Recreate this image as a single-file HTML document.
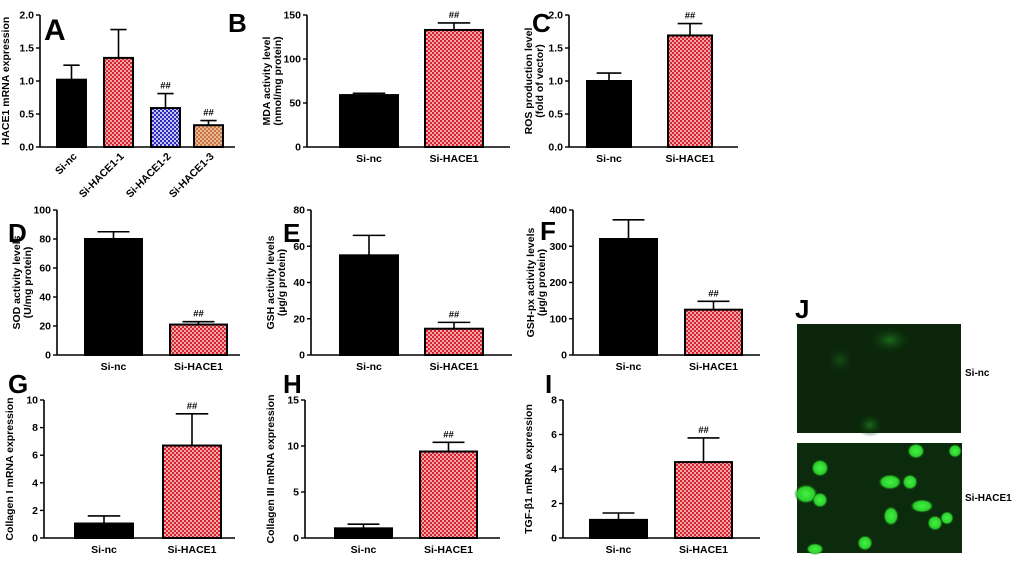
<!DOCTYPE html>
<html><head><meta charset="utf-8"><style>
body{margin:0;background:#fff;width:1020px;height:563px;overflow:hidden;font-family:"Liberation Sans",sans-serif}
svg text{font-family:"Liberation Sans",sans-serif;font-weight:bold}
</style></head><body>
<svg id="fig" width="1020" height="563" xmlns="http://www.w3.org/2000/svg">
<defs>
<pattern id="pRed" width="4" height="4" patternUnits="userSpaceOnUse"><rect width="4" height="4" fill="#f2a8aa"/><rect width="2" height="2" fill="#d8232f"/><rect x="2" y="2" width="2" height="2" fill="#d8232f"/></pattern>
<pattern id="pBlue" width="4" height="4" patternUnits="userSpaceOnUse"><rect width="4" height="4" fill="#c8c8f0"/><rect width="2" height="2" fill="#2a2ac0"/><rect x="2" y="2" width="2" height="2" fill="#2a2ac0"/></pattern>
<pattern id="pOr" width="4" height="4" patternUnits="userSpaceOnUse"><rect width="4" height="4" fill="#e8b890"/><rect width="2" height="2" fill="#c87848"/><rect x="2" y="2" width="2" height="2" fill="#c87848"/></pattern>
<radialGradient id="cell"><stop offset="0" stop-color="#44f044"/><stop offset="0.7" stop-color="#2cd02c"/><stop offset="1" stop-color="#0a3a0a" stop-opacity="0"/></radialGradient>
<radialGradient id="dim"><stop offset="0" stop-color="#1c6a1c"/><stop offset="1" stop-color="#0a2a0a" stop-opacity="0"/></radialGradient>
</defs>
<g id="panels"></g>
<g>
<text x="795" y="318" font-size="26">J</text>
<rect x="797" y="324" width="164" height="109" fill="#0b260b"/>
<ellipse cx="890" cy="340" rx="22" ry="14" fill="url(#dim)"/><ellipse cx="870" cy="425" rx="14" ry="12" fill="url(#dim)"/><ellipse cx="840" cy="360" rx="14" ry="14" fill="url(#dim)" opacity="0.6"/>
<text x="965" y="376" font-size="10">Si-nc</text>
<rect x="797" y="443" width="165" height="110" fill="#0c2a0c"/>
<g>
<ellipse cx="820" cy="468" rx="9" ry="9" fill="url(#cell)"/><ellipse cx="806" cy="494" rx="12" ry="10" fill="url(#cell)"/><ellipse cx="820" cy="500" rx="8" ry="8" fill="url(#cell)"/>
<ellipse cx="890" cy="482" rx="12" ry="8" fill="url(#cell)"/><ellipse cx="910" cy="482" rx="8" ry="8" fill="url(#cell)"/><ellipse cx="922" cy="506" rx="12" ry="7" fill="url(#cell)"/>
<ellipse cx="891" cy="516" rx="8" ry="10" fill="url(#cell)"/><ellipse cx="935" cy="523" rx="8" ry="8" fill="url(#cell)"/><ellipse cx="947" cy="518" rx="7" ry="7" fill="url(#cell)"/>
<ellipse cx="865" cy="543" rx="8" ry="8" fill="url(#cell)"/><ellipse cx="815" cy="549" rx="9" ry="6" fill="url(#cell)"/><ellipse cx="916" cy="451" rx="9" ry="8" fill="url(#cell)"/><ellipse cx="955" cy="451" rx="7" ry="7" fill="url(#cell)"/>
</g>
<text x="965" y="501" font-size="10">Si-HACE1</text>
</g>
</svg>
<script>
// Data arrays
const aCats=["Si-nc","Si-HACE1-1","Si-HACE1-2","Si-HACE1-3"], aVals=[1.02,1.35,0.59,0.33], aErrs=[0.22,0.43,0.22,0.07], aTicks=[0,0.5,1.0,1.5,2.0];
const twoCats=["Si-nc","Si-HACE1"];
const bVals=[59,133], bErrs=[2,8], bTicks=[0,50,100,150];
const cVals=[1.0,1.69], cErrs=[0.12,0.18], cTicks=[0,0.5,1.0,1.5,2.0];
const dVals=[80,21], dErrs=[5,2], dTicks=[0,20,40,60,80,100];
const eVals=[55,14.5], eErrs=[11,3.5], eTicks=[0,20,40,60,80];
const fVals=[320,125], fErrs=[53,23], fTicks=[0,100,200,300,400];
const gVals=[1.05,6.7], gErrs=[0.55,2.3], gTicks=[0,2,4,6,8,10];
const hVals=[1.05,9.4], hErrs=[0.45,1.0], hTicks=[0,5,10,15];
const iVals=[1.05,4.4], iErrs=[0.4,1.4], iTicks=[0,2,4,6,8];

const NS="http://www.w3.org/2000/svg", root=document.getElementById('panels');
const FS=10.5;
function el(t,a,p){const e=document.createElementNS(NS,t);for(const k in a)e.setAttribute(k,a[k]);(p||root).appendChild(e);return e;}
function fmt(v,ticks){return ticks.some(t=>t%1!==0)?v.toFixed(1):String(v);}
function panel(o){
 const g=el('g',{});
 
 
 const ymax=o.ticks[o.ticks.length-1];
 const y=v=>o.y0-(v/ymax)*(o.y0-o.y1);
 const ax=el('line',{x1:o.ax,y1:o.y1,x2:o.ax,y2:o.y0,stroke:'#000','stroke-width':1.6},g);
 
 const xx=el('line',{x1:o.ax,y1:o.y0,x2:o.xend,y2:o.y0,stroke:'#000','stroke-width':1.6},g);
 
 o.ticks.forEach(t=>{
  el('line',{x1:o.ax-4,y1:y(t),x2:o.ax,y2:y(t),stroke:'#000','stroke-width':1.4},g);
  const tx=el('text',{x:o.ax-6,y:y(t)+3.5,'font-size':FS,'text-anchor':'end'},g);tx.textContent=fmt(t,o.ticks);
  
 });
 const cx=o.ax-o.titleOff, cy=(o.y0+o.y1)/2;
 const tt=el('text',{x:cx,y:cy,'font-size':FS,'text-anchor':'middle',transform:`rotate(-90 ${cx} ${cy})`},g);
 
 o.title.forEach((ln,i)=>{const s=el('tspan',{x:cx,dy:i?11:0},tt);s.textContent=ln;});
 o.vals.forEach((v,i)=>{
  const x0=o.bx[i], w=o.bw, top=y(v), et=y(v+o.errs[i]);
  el('line',{x1:x0+w/2,y1:top,x2:x0+w/2,y2:et,stroke:'#000','stroke-width':1.6},g);
  el('line',{x1:x0+w/2-w*0.28,y1:et,x2:x0+w/2+w*0.28,y2:et,stroke:'#000','stroke-width':1.6},g);
  const b=el('rect',{x:x0,y:top,width:w,height:o.y0-top,fill:o.fills[i],stroke:'#000','stroke-width':2},g);
  
  if(o.sig[i]){const s=el('text',{x:x0+w/2,y:et-5,'font-size':9.5,'text-anchor':'middle','font-weight':'normal'},g);s.textContent='##';
   }
  let l;
  if(o.rot){const lx=x0+w/2+6,ly=o.y0+10;l=el('text',{x:lx,y:ly,'font-size':FS,'text-anchor':'end',transform:`rotate(-45 ${lx} ${ly})`},g);}
  else l=el('text',{x:x0+w/2,y:o.y0+15,'font-size':FS,'text-anchor':'middle'},g);
  l.textContent=o.cats[i];
 });
 const L=el('text',{x:o.lx,y:o.ly,'font-size':o.ls||26},g);L.textContent=o.id.toUpperCase();
 
}
const R='url(#pRed)';
panel({id:'a',cats:aCats,vals:aVals,errs:aErrs,ticks:aTicks,ax:40,y0:147,y1:15,xend:235,bx:[57,104,151,194],bw:29,fills:['#000',R,'url(#pBlue)','url(#pOr)'],sig:[0,0,1,1],rot:true,title:['HACE1 mRNA expression'],titleOff:31,lx:44,ly:40,ls:30});
panel({id:'b',cats:twoCats,vals:bVals,errs:bErrs,ticks:bTicks,ax:307,y0:147,y1:15,xend:510,bx:[340,425],bw:58,fills:['#000',R],sig:[0,1],title:['MDA activity level','(nmol/mg protein)'],titleOff:37,lx:228,ly:32});
panel({id:'c',cats:twoCats,vals:cVals,errs:cErrs,ticks:cTicks,ax:569,y0:147,y1:15,xend:738,bx:[587,668],bw:44,fills:['#000',R],sig:[0,1],title:['ROS production level','(fold of vector)'],titleOff:37,lx:532,ly:32});
panel({id:'d',cats:twoCats,vals:dVals,errs:dErrs,ticks:dTicks,ax:57,y0:355,y1:210,xend:240,bx:[85,170],bw:57,fills:['#000',R],sig:[0,1],title:['SOD activity levels','(U/mg protein)'],titleOff:37,lx:8,ly:242});
panel({id:'e',cats:twoCats,vals:eVals,errs:eErrs,ticks:eTicks,ax:311,y0:355,y1:210,xend:512,bx:[340,425],bw:58,fills:['#000',R],sig:[0,1],title:['GSH activity levels','(µg/g protein)'],titleOff:37,lx:283,ly:242});
panel({id:'f',cats:twoCats,vals:fVals,errs:fErrs,ticks:fTicks,ax:573,y0:355,y1:210,xend:760,bx:[600,685],bw:57,fills:['#000',R],sig:[0,1],title:['GSH-px activity levels','(µg/g protein)'],titleOff:39,lx:540,ly:240});
panel({id:'g',cats:twoCats,vals:gVals,errs:gErrs,ticks:gTicks,ax:44,y0:538,y1:400,xend:235,bx:[75,163],bw:58,fills:['#000',R],sig:[0,1],title:['Collagen I mRNA expression'],titleOff:31,lx:8,ly:393});
panel({id:'h',cats:twoCats,vals:hVals,errs:hErrs,ticks:hTicks,ax:305,y0:538,y1:400,xend:500,bx:[335,420],bw:57,fills:['#000',R],sig:[0,1],title:['Collagen III mRNA expression'],titleOff:31,lx:283,ly:393});
panel({id:'i',cats:twoCats,vals:iVals,errs:iErrs,ticks:iTicks,ax:563,y0:538,y1:400,xend:760,bx:[590,675],bw:57,fills:['#000',R],sig:[0,1],title:['TGF-β1 mRNA expression'],titleOff:31,lx:545,ly:393});
</script>
</body></html>
